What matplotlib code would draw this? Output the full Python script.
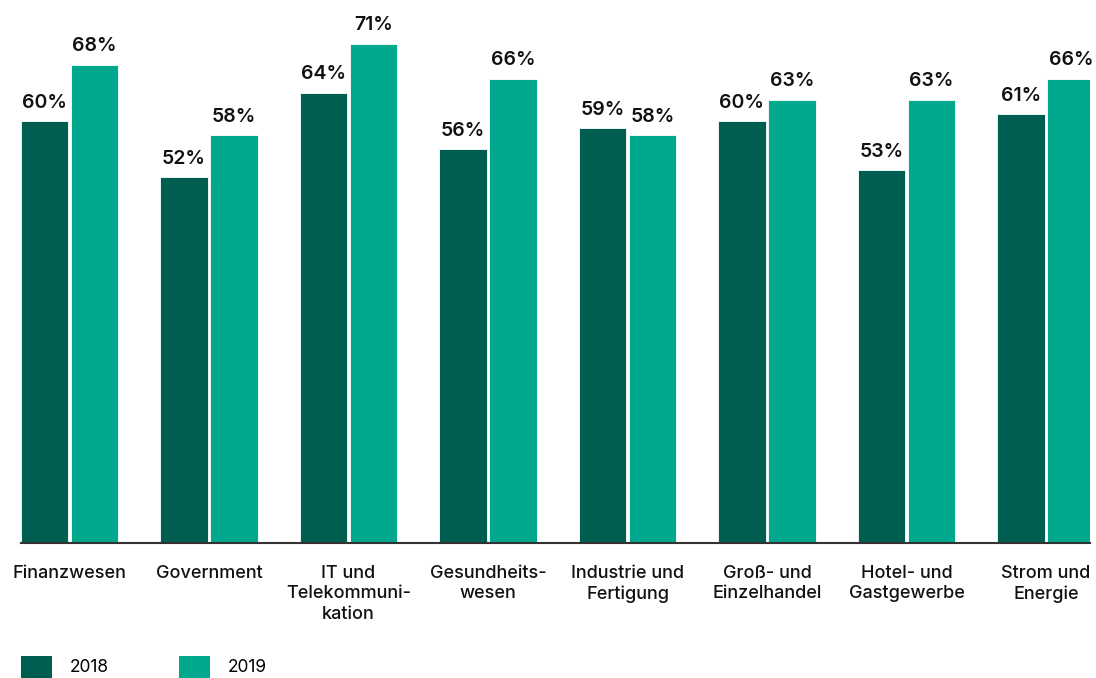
#!/usr/bin/env python3
# Grouped bar chart: 2018 vs 2019 by industry

import numpy as np
import matplotlib
matplotlib.use("Agg")
import matplotlib.pyplot as plt
from matplotlib.patches import Patch

categories = ["Finanzwesen", "Government", "IT und\nTelekommuni-\nkation",
              "Gesundheits-\nwesen", "Industrie und\nFertigung",
              "Groß- und\nEinzelhandel", "Hotel- und\nGastgewerbe",
              "Strom und\nEnergie"]
years = ["2018", "2019"]
vals_2018 = [60, 52, 64, 56, 59, 60, 53, 61]
vals_2019 = [68, 58, 71, 66, 58, 63, 63, 66]

dark = "#005e50"
light = "#00a88e"

plt.rcParams['font.family'] = ['Inter', 'DejaVu Sans']

W, H = 1096, 678
fig = plt.figure(figsize=(W / 100, H / 100), dpi=100, facecolor='white')
ax = fig.add_axes([21 / W, (H - 543) / H, (1090 - 21) / W, 543 / H])

x = np.arange(len(categories))
bw = 0.34
b1 = ax.bar(x - 0.181, vals_2018, bw, color=dark, edgecolor='white', linewidth=0.6)
b2 = ax.bar(x + 0.178, vals_2019, bw, color=light, edgecolor='white', linewidth=0.6)

for bars in (b1, b2):
    for r in bars:
        ax.annotate(f"{r.get_height():.0f}%", (r.get_x() + r.get_width() / 2, r.get_height()),
                    xytext=(0, 7), textcoords='offset points', ha='center', va='bottom',
                    fontsize=14, fontweight='semibold', color='#111111')

ax.set_xlim(-0.348, 7.315)
ax.set_ylim(0, 77.25)
for s in ['top', 'right', 'left']:
    ax.spines[s].set_visible(False)
ax.spines['bottom'].set_color('#333333')
ax.spines['bottom'].set_linewidth(1.5)
ax.set_yticks([])
ax.set_xticks(x)
ax.set_xticklabels(categories, fontsize=13, fontweight='medium', linespacing=1.25,
                   color='#111111', va='top')
ax.tick_params(axis='x', length=0, pad=16)

fs = 12.5
fs_px = fs * 100 / 72
handles = [Patch(facecolor=dark), Patch(facecolor=light)]
fig.legend(handles, years, loc='lower left', bbox_to_anchor=(21 / W, 0),
           ncol=2, frameon=False, fontsize=fs, borderpad=0, borderaxespad=0,
           handlelength=31 / fs_px, handleheight=28 / fs_px,
           handletextpad=18 / fs_px, columnspacing=70 / fs_px)

fig.savefig("out.png", dpi=100, facecolor='white')
